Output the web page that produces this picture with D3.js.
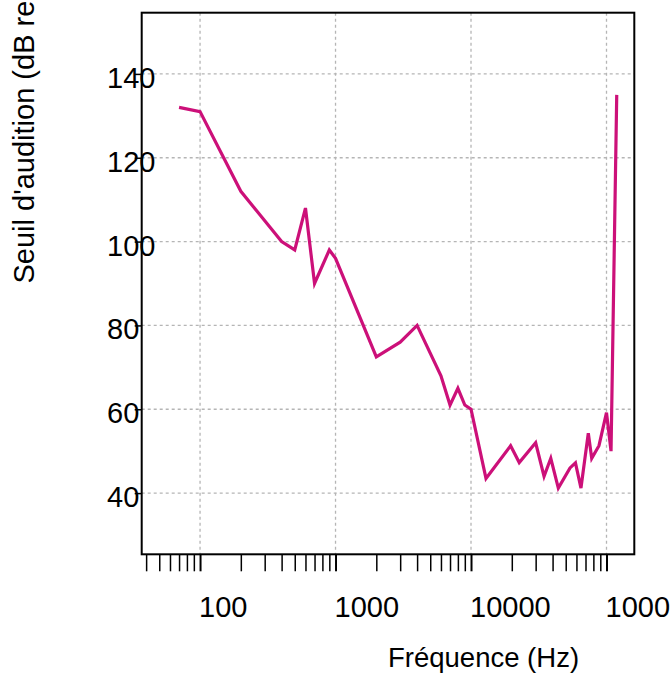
<!DOCTYPE html>
<html>
<head>
<meta charset="utf-8">
<script src="https://cdn.jsdelivr.net/npm/d3@7"></script>
<style>
  body { margin: 0; background: #fff; }
  svg { display: block; font-family: "Liberation Sans", Arial, sans-serif; }
</style>
</head>
<body>
<div id="chart"></div>
<script>
// Frequencies (Hz) and hearing threshold (dB)
const freq = [70, 100, 200, 400, 500, 600, 700, 900, 1000, 2000, 3000, 4000, 6000, 7000, 8000, 9000,
  10000, 12900, 19600, 22700, 30000, 34600, 38800, 44100, 53800, 59000, 64800, 73400, 77800, 88000,
  100000, 108000, 119000];
const seuil = [132, 131, 112, 100, 98, 108, 90, 98, 96, 72.5, 76, 80, 68, 61, 65, 61,
  60, 43.5, 51.3, 47.3, 52, 44, 48.3, 41.2, 46, 47.2, 41.2, 54.3, 48.3, 51.3,
  59.2, 50, 135];

// Axis ticks
const xMajor = [100, 1000, 10000, 100000];
const xMinor = [40, 50, 60, 70, 80, 90, 200, 300, 400, 500, 600, 700, 800, 900,
  2000, 3000, 4000, 5000, 6000, 7000, 8000, 9000,
  20000, 30000, 40000, 50000, 60000, 70000, 80000, 90000];
const yTicks = [40, 60, 80, 100, 120, 140];

const xTitle = "Fréquence (Hz)";
const yTitle = "Seuil d'audition (dB re 20 µPa)";

const width = 670, height = 675;
const margin = { top: 12.7, right: 35.7, bottom: 120.7, left: 141.7 };

const svg = d3.select("#chart")
  .append("svg")
  .attr("width", width)
  .attr("height", height);

// Scales
const x = d3.scaleLog()
  .domain([37.1, 160400])
  .range([margin.left, width - margin.right]);

const y = d3.scaleLinear()
  .domain([25.4, 154.6])
  .range([height - margin.bottom, margin.top]);

// Grid
const grid = svg.append("g")
  .attr("stroke", "#b5b5b5")
  .attr("stroke-width", 1.3)
  .attr("stroke-dasharray", "3,3");

grid.selectAll(".vgrid")
  .data(xMajor)
  .enter()
  .append("line")
  .attr("x1", d => x(d))
  .attr("x2", d => x(d))
  .attr("y1", margin.top)
  .attr("y2", height - margin.bottom);

grid.selectAll(".hgrid")
  .data(yTicks)
  .enter()
  .append("line")
  .attr("x1", margin.left)
  .attr("x2", width - margin.right)
  .attr("y1", d => y(d))
  .attr("y2", d => y(d));

// Axes
const allX = xMinor.concat(xMajor).sort(d3.ascending);
const xAxis = d3.axisBottom(x)
  .tickValues(allX)
  .tickSize(17)
  .tickSizeOuter(0)
  .tickFormat(d => xMajor.includes(d) ? d : "");

const gx = svg.append("g")
  .attr("transform", `translate(0,${height - margin.bottom})`)
  .call(xAxis);
gx.select(".domain").remove();
gx.selectAll("line")
  .attr("stroke-width", d => xMajor.includes(d) ? 2 : 1.5);
gx.selectAll("text")
  .attr("text-anchor", "start")
  .attr("x", -1.5)
  .attr("y", 62.4)
  .attr("dy", null)
  .attr("font-size", "29px")
  .attr("fill", "#000");

const yAxis = d3.axisLeft(y)
  .tickValues(yTicks)
  .tickSize(7)
  .tickSizeOuter(0);

const gy = svg.append("g")
  .attr("transform", `translate(${margin.left},0)`)
  .call(yAxis);
gy.select(".domain").remove();
gy.selectAll("line").attr("stroke-width", 1.5);
gy.selectAll("text")
  .attr("text-anchor", "start")
  .attr("x", 107 - margin.left)
  .attr("y", 13.5)
  .attr("dy", null)
  .attr("font-size", "29px")
  .attr("fill", "#000");

// Box
svg.append("rect")
  .attr("x", margin.left)
  .attr("y", margin.top)
  .attr("width", width - margin.left - margin.right)
  .attr("height", height - margin.top - margin.bottom)
  .attr("fill", "none")
  .attr("stroke", "#000")
  .attr("stroke-width", 2);

// Line
const data = freq.map((f, i) => ({ f: f, v: seuil[i] }));
const line = d3.line()
  .x(d => x(d.f))
  .y(d => y(d.v));

svg.append("path")
  .datum(data)
  .attr("fill", "none")
  .attr("stroke", "#cc1079")
  .attr("stroke-width", 3.2)
  .attr("d", line);

// Titles
svg.append("text")
  .attr("x", (margin.left + width - margin.right) / 2)
  .attr("y", 667)
  .attr("text-anchor", "start")
  .attr("font-size", "27.5px")
  .text(xTitle);

svg.append("text")
  .attr("transform", `translate(34,${(margin.top + height - margin.bottom) / 2}) rotate(-90)`)
  .attr("text-anchor", "start")
  .attr("font-size", "29px")
  .text(yTitle);
</script>
</body>
</html>
